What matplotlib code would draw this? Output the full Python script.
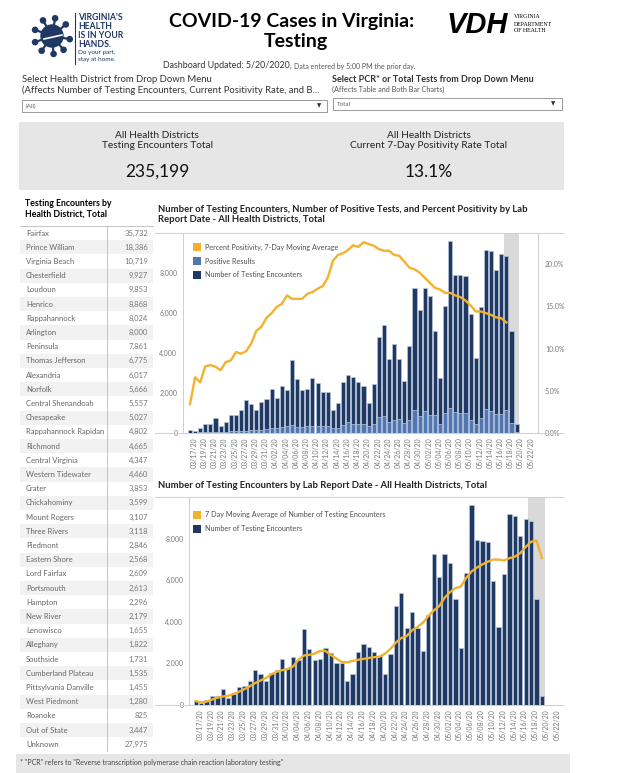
import datetime as dt
import numpy as np
import matplotlib.pyplot as plt
from matplotlib.patches import Rectangle, Circle

plt.rcParams['font.family'] = ['Lato', 'DejaVu Sans']

W, H = 621, 773

# table on the left
districts = ["Fairfax", "Prince William", "Virginia Beach", "Chesterfield", "Loudoun",
             "Henrico", "Rappahannock", "Arlington", "Peninsula", "Thomas Jefferson",
             "Alexandria", "Norfolk", "Central Shenandoah", "Chesapeake",
             "Rappahannock Rapidan", "Richmond", "Central Virginia", "Western Tidewater",
             "Crater", "Chickahominy", "Mount Rogers", "Three Rivers", "Piedmont",
             "Eastern Shore", "Lord Fairfax", "Portsmouth", "Hampton", "New River",
             "Lenowisco", "Alleghany", "Southside", "Cumberland Plateau",
             "Pittsylvania Danville", "West Piedmont", "Roanoke", "Out of State", "Unknown"]
district_totals = [35732, 18386, 10719, 9927, 9853, 8868, 8024, 8000, 7861, 6775,
                   6017, 5666, 5557, 5027, 4802, 4665, 4347, 4460, 3853, 3599, 3107,
                   3118, 2846, 2568, 2609, 2613, 2296, 2179, 1655, 1822, 1731, 1535,
                   1455, 1280, 825, 3447, 27975]

# daily series, lab report date 03/17/20 .. 05/20/20
start_day = dt.date(2020, 3, 17)
encounters = [170, 110, 230, 440, 450, 760, 330, 540, 880, 890,
              1140, 1670, 1470, 1140, 1530, 1700, 2210, 1770, 2330, 2160,
              3640, 2710, 2140, 2200, 2740, 2500, 2040, 2030, 1130, 1500,
              2560, 2910, 2780, 2550, 2370, 1500, 2440, 4780, 5400, 3700,
              4450, 3700, 2620, 4350, 7270, 6160, 7270, 6850, 5080, 2740,
              6370, 9600, 7920, 7890, 7860, 5940, 3750, 6280, 9160, 9090,
              8130, 8940, 8870, 5080, 450]
positives = [20, 15, 30, 40, 45, 60, 50, 60, 80, 90,
             100, 120, 130, 140, 170, 200, 260, 250, 280, 370,
             400, 310, 320, 330, 370, 360, 360, 340, 260, 250,
             420, 530, 450, 460, 450, 350, 450, 780, 870, 530,
             650, 720, 500, 670, 1130, 850, 1100, 900, 880, 430,
             1020, 1240, 1070, 985, 985, 670, 430, 770, 1180, 1120,
             940, 940, 1130, 520, 30]
positivity_pct = [3.4, 6.6, 6.0, 7.9, 8.05, 7.85, 7.45, 8.4, 8.6, 9.6,
                  9.4, 9.7, 10.6, 12.1, 12.6, 13.65, 14.2, 14.95, 15.3, 16.3,
                  15.9, 15.9, 15.9, 16.5, 16.7, 17.1, 17.4, 18.4, 20.4, 21.1,
                  21.3, 21.7, 22.25, 22.05, 22.6, 22.4, 22.2, 21.8, 21.6, 21.6,
                  21.1, 21.0, 20.3, 19.6, 19.4, 19.0, 18.4, 17.8, 17.2, 17.0,
                  16.6, 16.6, 16.3, 16.1, 15.7, 15.1, 14.4, 14.4, 14.2, 14.0,
                  13.7, 13.6, 13.1]
encounters_ma = [190, 120, 160, 260, 350, 410, 440, 530, 640, 760,
                 900, 1060, 1180, 1300, 1480, 1600, 1680, 1730, 1850, 2180,
                 2380, 2410, 2470, 2600, 2600, 2400, 2230, 2070, 2050, 2120,
                 2170, 2215, 2260, 2300, 2320, 2470, 2700, 3000, 3220, 3310,
                 3590, 3750, 3950, 4280, 4540, 4750, 5150, 5420, 5620, 5690,
                 6110, 6420, 6610, 6760, 6890, 6990, 6990, 6950, 7060, 7130,
                 7300, 7600, 7850, 7900, 7070]

NAVY = '#1f3864'
EDGE = '#b9c7da'
BLUE = '#5077b3'
GOLD = '#f3b22d'
TXT = '#333333'
GTXT = '#7a7a7a'
RULE = '#cfcfcf'
SHADE = '#d9d9d9'

fig = plt.figure(figsize=(W / 100, H / 100), dpi=100)

ov = fig.add_axes([0, 0, 1, 1])
ov.set_xlim(0, W)
ov.set_ylim(H, 0)
ov.axis('off')
ov.set_zorder(10)


def txt(x, y, s, **kw):
    kw.setdefault('va', 'center')
    kw.setdefault('color', TXT)
    ov.text(x, y, s, **kw)


def px_axes(l, t, r, b):
    return fig.add_axes([l / W, 1 - b / H, (r - l) / W, (b - t) / H])


# ---- header ----
cx, cy = 52, 36
for a in np.deg2rad([10, 50, 85, 125, 160, 200, 240, 280, 320]):
    ov.plot([cx, cx + 17 * np.cos(a)], [cy, cy + 17 * np.sin(a)], color=NAVY, lw=1.6)
    ov.add_patch(Circle((cx + 18 * np.cos(a), cy + 18 * np.sin(a)), 2.6, color=NAVY))
ov.add_patch(Circle((cx, cy), 11, color=NAVY))
ov.plot([cx - 8, cx + 10], [cy + 3, cy - 1], color='white', lw=1.2)
ov.plot([75, 75], [13, 64], color=NAVY, lw=0.8)
for yy, s in zip([17.5, 26.5, 35.5, 44.5], ["VIRGINIA'S", "HEALTH", "IS IN YOUR", "HANDS."]):
    txt(78, yy, s, fontsize=6.2, fontweight='bold', color=NAVY)
txt(78, 52.5, "Do your part,", fontsize=4.6, color=NAVY)
txt(78, 59.5, "stay at home.", fontsize=4.6, color=NAVY)

txt(292, 22, "COVID-19 Cases in Virginia:", fontsize=14, fontweight='bold', ha='center', color='black')
txt(296, 42, "Testing", fontsize=14, fontweight='bold', ha='center', color='black')

txt(447, 25, "VDH", fontsize=21, fontweight='bold', style='italic',
    family='Liberation Sans', color='black')
for yy, s in zip([17, 24, 31], ["VIRGINIA", "DEPARTMENT", "OF HEALTH"]):
    txt(514, yy, s, fontsize=4.2, family='Liberation Serif', color='black')

txt(163, 66, "Dashboard Updated: 5/20/2020,", fontsize=6.4)
txt(294, 66.5, "Data entered by 5:00 PM the prior day.", fontsize=5, color='#555555')

txt(22, 80, "Select Health District from Drop Down Menu", fontsize=6.8)
txt(22, 90, "(Affects Number of Testing Encounters, Current Positivity Rate, and B...", fontsize=6.8)
txt(332, 79.5, "Select PCR* or Total Tests from Drop Down Menu", fontsize=6.5, fontweight='bold')
txt(332, 89.5, "(Affects Table and Both Bar Charts)", fontsize=5.2, color='#555555')

ov.add_patch(Rectangle((22, 100), 305, 12, fill=False, edgecolor='#9a9a9a', lw=0.7))
txt(26, 106, "(All)", fontsize=4.5, color='#666666')
txt(317, 106, "\u25bc", fontsize=4, color='#333333')
ov.add_patch(Rectangle((333, 98), 229, 12, fill=False, edgecolor='#9a9a9a', lw=0.7))
txt(337, 104, "Total", fontsize=4.5, color='#666666')
txt(551, 104, "\u25bc", fontsize=4, color='#333333')

# KPI band
ov.add_patch(Rectangle((19, 122), 545, 68, color='#e6e6e6', lw=0))
txt(157, 135, "All Health Districts", fontsize=7.3, ha='center', color='#222222')
txt(157, 145, "Testing Encounters Total", fontsize=7.3, ha='center', color='#222222')
txt(157, 172, f"{sum(district_totals):,}", fontsize=12.5, ha='center', color='#111111')
txt(429, 135, "All Health Districts", fontsize=7.3, ha='center', color='#222222')
txt(429, 145, "Current 7-Day Positivity Rate Total", fontsize=7.3, ha='center', color='#222222')
txt(429, 172, f"{positivity_pct[-1]:.1f}%", fontsize=12.5, ha='center', color='#111111')

# ---- table ----
txt(25, 204, "Testing Encounters by", fontsize=6.3, fontweight='bold', color='black')
txt(25, 214, "Health District, Total", fontsize=6.3, fontweight='bold', color='black')
t_top, row_h = 226, 14.2
t_left, t_div, t_right = 20, 107, 153
for i, (name, val) in enumerate(zip(districts, district_totals)):
    y0 = t_top + i * row_h
    if i % 2 == 1:
        ov.add_patch(Rectangle((t_left, y0), t_right - t_left, row_h, color='#f2f2f2', lw=0))
    txt(26, y0 + row_h / 2, name, fontsize=5.5, color='#666666')
    txt(148, y0 + row_h / 2, f"{val:,}", fontsize=5.5, color='#777777', ha='right')
t_bot = t_top + len(districts) * row_h
ov.plot([t_left, t_right], [t_top, t_top], color='#bbbbbb', lw=0.6)
ov.plot([t_div, t_div], [t_top, t_bot], color='#bbbbbb', lw=0.6)

ov.add_patch(Rectangle((16, 754), 554, 19, color='#e6e6e6', lw=0))
txt(20, 763, '* "PCR" refers to "Reverse transcription polymerase chain reaction laboratory testing"',
    fontsize=5, color='#444444')

# ---- charts ----
x = np.arange(len(encounters))
tick_pos = np.arange(0, 67, 2)
tick_lab = [(start_day + dt.timedelta(days=int(i))).strftime('%m/%d/%y') for i in tick_pos]


def style_axis(ax):
    ax.patch.set_visible(False)
    ax.set_ylim(0, 10000)
    ax.set_yticks([0, 2000, 4000, 6000, 8000])
    ax.set_yticklabels([f"{v:,}" for v in [0, 2000, 4000, 6000, 8000]])
    ax.set_xticks(tick_pos + 0.8)
    ax.set_xticklabels(tick_lab, rotation=90)
    ax.tick_params(axis='y', length=0, pad=4, labelsize=5, labelcolor=GTXT)
    ax.tick_params(axis='x', length=0, pad=3, labelsize=5, labelcolor=GTXT)
    for sp in ['top', 'right']:
        ax.spines[sp].set_visible(False)
    for sp in ['left', 'bottom']:
        ax.spines[sp].set_color(RULE)
        ax.spines[sp].set_linewidth(0.7)


# chart 1
txt(158, 209, "Number of Testing Encounters, Number of Positive Tests, and Percent Positivity by Lab",
    fontsize=6.8, fontweight='bold', color='#222222')
txt(158, 220, "Report Date - All Health Districts, Total", fontsize=6.8, fontweight='bold', color='#222222')
ax1 = px_axes(183, 233, 538, 433)
ax1.axvspan(61.5, 64.5, color=SHADE, lw=0, zorder=0)
ax1.bar(x, encounters, width=0.8, color=NAVY, edgecolor=EDGE, linewidth=0.5, zorder=2)
ax1.bar(x, positives, width=0.8, color=BLUE, edgecolor=EDGE, linewidth=0.5, zorder=3)
ax1.set_xlim(-1.37, 68.2)
style_axis(ax1)
ax1r = ax1.twinx()
ax1r.patch.set_visible(False)
ax1r.plot(x[:len(positivity_pct)], np.array(positivity_pct) / 100, color=GOLD, lw=1.7)
ax1r.set_ylim(0, 0.237)
ax1r.set_yticks([0, 0.05, 0.10, 0.15, 0.20])
ax1r.set_yticklabels(['0.0%', '5.0%', '10.0%', '15.0%', '20.0%'])
ax1r.tick_params(axis='y', length=0, pad=5, labelsize=5, labelcolor=GTXT)
for sp in ['top', 'left', 'bottom']:
    ax1r.spines[sp].set_visible(False)
ax1r.spines['right'].set_color(RULE)
ax1r.spines['right'].set_linewidth(0.7)

ov.plot([155, 563], [233, 233], color=RULE, lw=0.7)
ov.plot([155, 563], [433, 433], color=RULE, lw=0.7)
for yy, col, lab in zip([247, 261, 275], [GOLD, BLUE, NAVY],
                        ["Percent Positivity, 7-Day Moving Average", "Positive Results",
                         "Number of Testing Encounters"]):
    ov.add_patch(Rectangle((193, yy - 4), 8, 8, color=col, lw=0))
    txt(205, yy, lab, fontsize=5.2, color='#505050')

# chart 2
txt(158, 485, "Number of Testing Encounters by Lab Report Date - All Health Districts, Total",
    fontsize=6.8, fontweight='bold', color='#222222')
ax2 = px_axes(189, 497, 563, 705)
ax2.axvspan(61.5, 64.5, color=SHADE, lw=0, zorder=0)
ax2.bar(x, encounters, width=0.8, color=NAVY, edgecolor=EDGE, linewidth=0.5, zorder=2)
ax2.plot(x, encounters_ma, color=GOLD, lw=1.7, zorder=4)
ax2.set_xlim(-1.24, 67.9)
style_axis(ax2)
ov.plot([155, 563], [497, 497], color=RULE, lw=0.7)
ov.plot([155, 563], [705, 705], color=RULE, lw=0.7)
for yy, col, lab in zip([515, 529], [GOLD, NAVY],
                        ["7 Day Moving Average of Number of Testing Encounters",
                         "Number of Testing Encounters"]):
    ov.add_patch(Rectangle((193, yy - 4), 8, 8, color=col, lw=0))
    txt(205, yy, lab, fontsize=5.2, color='#505050')

fig.savefig('out.png', dpi=100)
